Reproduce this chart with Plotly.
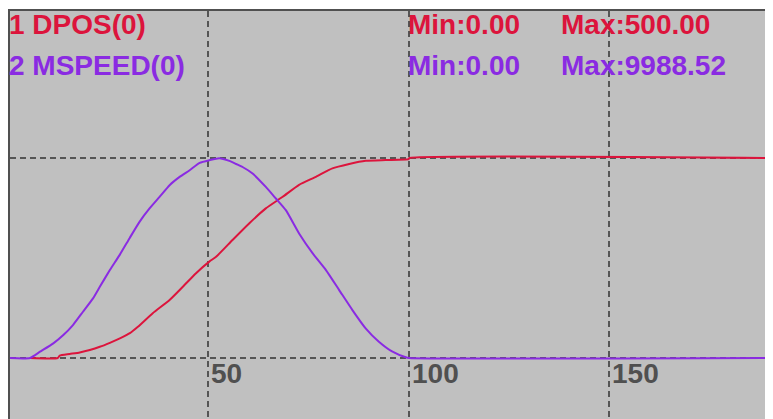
import plotly.graph_objects as go

# ---- data ----
t_pos = [5.5, 12.4, 12.9, 15.4, 17.9, 20.4, 22.9, 25.4, 27.9, 30.4, 32.4, 36.1,
         40.3, 43.6, 46.9, 50.2, 51.9, 56.0, 60.2, 64.3, 68.5, 72.6, 76.8, 80.9,
         85.1, 89.2, 94.2, 99.9, 100.1, 190.5]
dpos = [0, 0, 6, 10, 14, 20, 28, 38, 49, 62, 78, 112,
        145, 178, 212, 241, 253, 295, 337, 374, 403, 433, 453, 474,
        485, 493, 495, 497, 500, 500]

t_spd = [0.0, 5.5, 8.0, 11.3, 13.8, 16.2, 18.7, 21.2, 22.9, 25.4, 27.9, 30.4,
         32.8, 35.3, 37.8, 40.3, 42.8, 45.3, 47.8, 50.2, 52.7, 55.2, 56.9, 58.5,
         61.0, 64.3, 66.8, 69.3, 72.6, 76.0, 79.3, 82.6, 85.9, 89.2, 92.5, 95.9,
         99.2, 100.0, 190.5]
mspeed = [0, 0, 315, 734, 1149, 1648, 2312, 2981, 3561, 4395, 5169, 6018,
          6807, 7476, 8055, 8640, 9054, 9389, 9754, 9888, 9988.52, 9854, 9700, 9550,
          9224, 8555, 7976, 7392, 6228, 5229, 4395, 3396, 2397, 1483, 814, 315,
          35, 0, 0]

x_ticks = [50, 100, 150]
x_tick_labels = ["50", "100", "150"]
y_grid = [0, 500]

names = ["1 DPOS(0)", "2 MSPEED(0)"]
mins = ["Min:0.00", "Min:0.00"]
maxs = ["Max:500.00", "Max:9988.52"]

RED = "#DC143C"
PURPLE = "#8A2BE2"
GRID = "#555555"
FONT = "Liberation Sans"

PAGE_OFF = 8          # default body margin of the html page
W, H = 773 - PAGE_OFF, 419 - PAGE_OFF
L, T = 10 - PAGE_OFF, 11 - PAGE_OFF
PW, PH = W - L, H - T


def pxx(x):  # page pixel -> paper
    return (x - PAGE_OFF - L) / PW


def pxy(y):
    return 1 - (y - PAGE_OFF - T) / PH


fig = go.Figure()
fig.add_trace(go.Scatter(x=t_spd, y=mspeed, mode="lines", yaxis="y2",
                         line=dict(color=PURPLE, width=2, shape="spline", smoothing=0.5),
                         hoverinfo="skip"))
fig.add_trace(go.Scatter(x=t_pos, y=dpos, mode="lines",
                         line=dict(color=RED, width=2, shape="spline", smoothing=0.5),
                         hoverinfo="skip"))

ann = []
txt_font = dict(family=FONT, size=28, weight="bold")
for i, (n, mn, mx, c) in enumerate(zip(names, mins, maxs, [RED, PURPLE])):
    yc = [25, 66][i]
    for txt, xp in [(n, 8), (mn, 408.5), (mx, 561)]:
        ann.append(dict(text=txt, x=pxx(xp), y=pxy(yc), xref="paper", yref="paper",
                        xanchor="left", yanchor="middle", showarrow=False,
                        borderpad=0, font=dict(color=c, **txt_font)))

for xv, lab in zip(x_ticks, x_tick_labels):
    ann.append(dict(text=lab, x=xv, y=0, xref="x", yref="y", xanchor="left",
                    yanchor="middle", xshift=2, yshift=-15, showarrow=False,
                    borderpad=0, font=dict(color="#505050", **txt_font)))
ann.append(dict(text="0", x=pxx(766), y=pxy(339), xref="paper", yref="paper",
                xanchor="left", yanchor="middle", showarrow=False, borderpad=0,
                font=dict(color="#505050", **txt_font)))

fig.update_layout(
    width=W, height=H,
    margin=dict(l=L, r=0, t=T, b=0, pad=0),
    paper_bgcolor="white", plot_bgcolor="#C0C0C0",
    showlegend=False,
    annotations=ann,
    xaxis=dict(range=[(10 - 8) / 4.02, (773 - 8) / 4.02], tickvals=x_ticks,
               showticklabels=False, ticks="", showgrid=True, gridcolor=GRID,
               gridwidth=1.5, griddash="6px,4px", zeroline=False,
               showline=True, linecolor="#505050", linewidth=2, mirror=True),
    yaxis=dict(range=[-(419 - 358) / 200 * 500, (358 - 11) / 200 * 500], tickvals=y_grid,
               showticklabels=False, ticks="", showgrid=True, gridcolor=GRID,
               gridwidth=1.5, griddash="6px,4px", zeroline=False,
               showline=True, linecolor="#505050", linewidth=2, mirror=True),
    yaxis2=dict(range=[-(419 - 358) / 200 * 10000, (358 - 11) / 200 * 10000],
                overlaying="y", showgrid=False, showticklabels=False, ticks="",
                zeroline=False, showline=False),
)

fig.write_html("out.html")
